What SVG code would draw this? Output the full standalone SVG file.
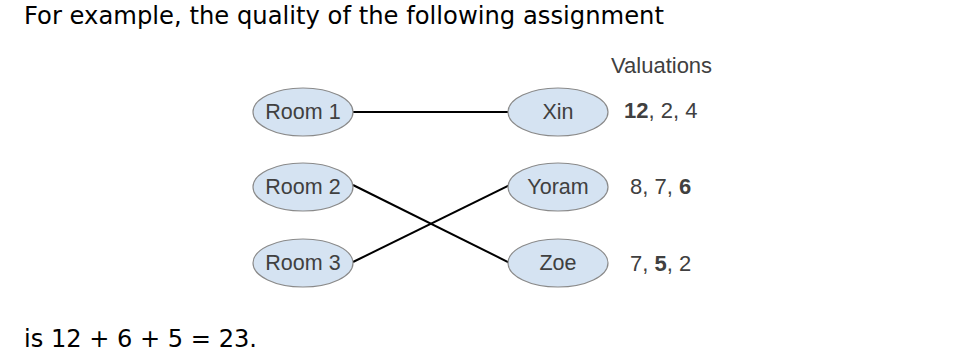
<svg xmlns="http://www.w3.org/2000/svg" width="963" height="354" viewBox="0 0 963 354">
  <style>
    .prose { font-family: "DejaVu Sans", "Liberation Sans", sans-serif; font-size: 25px; fill: #000; }
    .node ellipse { fill: #d5e3f2; stroke: #8a8a8a; stroke-width: 1.2; }
    .node text { font-family: "Liberation Sans", Arial, sans-serif; font-size: 21.5px; fill: #404040; text-anchor: middle; }
    .val { font-family: "Liberation Sans", Arial, sans-serif; font-size: 22px; fill: #404040; }
    .val .b { font-weight: bold; }
    .edges line { stroke: #000; stroke-width: 2; }
  </style>
  <rect width="963" height="354" fill="#fff"/>

  <text class="prose" x="24" y="24" textLength="640" lengthAdjust="spacingAndGlyphs">For example, the quality of the following assignment</text>
  <text class="prose" x="24" y="347" textLength="233" lengthAdjust="spacingAndGlyphs">is 12 + 6 + 5 = 23.</text>

  <g class="edges">
    <line x1="353" y1="112" x2="508" y2="112"/>
    <line x1="353" y1="185" x2="510" y2="263"/>
    <line x1="353" y1="262" x2="510" y2="185"/>
  </g>

  <g id="room1" class="node">
    <ellipse cx="303" cy="112" rx="50" ry="24"/>
    <text x="303" y="119">Room 1</text>
  </g>
  <g id="room2" class="node">
    <ellipse cx="303" cy="187" rx="50" ry="24"/>
    <text x="303" y="194">Room 2</text>
  </g>
  <g id="room3" class="node">
    <ellipse cx="303" cy="263" rx="50" ry="24"/>
    <text x="303" y="270">Room 3</text>
  </g>
  <g id="xin" class="node">
    <ellipse cx="558" cy="112" rx="50" ry="24"/>
    <text x="558" y="119">Xin</text>
  </g>
  <g id="yoram" class="node">
    <ellipse cx="558" cy="187" rx="50" ry="24"/>
    <text x="558" y="194">Yoram</text>
  </g>
  <g id="zoe" class="node">
    <ellipse cx="558" cy="263" rx="50" ry="24"/>
    <text x="558" y="270">Zoe</text>
  </g>

  <text class="val" x="611" y="73">Valuations</text>
  <text class="val" x="624" y="118"><tspan class="b">12</tspan>, 2, 4</text>
  <text class="val" x="630" y="194">8, 7, <tspan class="b">6</tspan></text>
  <text class="val" x="630" y="271">7, <tspan class="b">5</tspan>, 2</text>
</svg>
